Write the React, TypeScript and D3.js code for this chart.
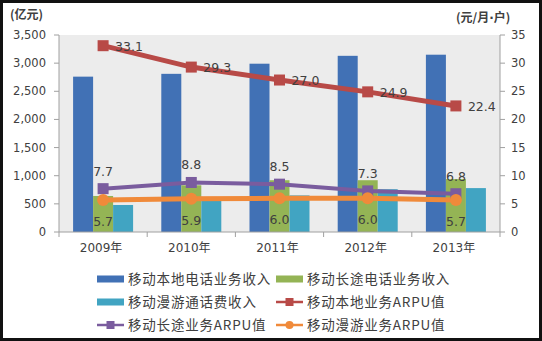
import React from "react";
import * as d3 from "d3";

const years = ["2009年", "2010年", "2011年", "2012年", "2013年"];
const localRevenue = [2760, 2810, 2990, 3130, 3150];
const longRevenue = [640, 830, 920, 920, 940];
const roamRevenue = [480, 560, 650, 760, 780];
const localArpu = [33.1, 29.3, 27.0, 24.9, 22.4];
const longArpu = [7.7, 8.8, 8.5, 7.3, 6.8];
const roamArpu = [5.7, 5.9, 6.0, 6.0, 5.7];
const leftTicks = [0, 500, 1000, 1500, 2000, 2500, 3000, 3500];
const rightTicks = [0, 5, 10, 15, 20, 25, 30, 35];

const C = {
  blue: "#4171B5",
  green: "#94B455",
  cyan: "#41A4C2",
  red: "#B84A47",
  purple: "#7A5C9E",
  orange: "#F08A3A",
};

const W = 542, H = 341;
const L = 59, R = 500, T = 35, B = 232;

export default function App() {
  const x = d3.scaleBand<string>().domain(years).range([L, R]).paddingInner(0).paddingOuter(0);
  const yL = d3.scaleLinear().domain([0, 3500]).range([B, T]);
  const yR = d3.scaleLinear().domain([0, 35]).range([B, T]);
  const bw = 20;
  const cx = (i: number) => (x(years[i]) as number) + x.bandwidth() / 2;
  const barSeries = [
    { vals: localRevenue, color: C.blue, off: -30 },
    { vals: longRevenue, color: C.green, off: -10 },
    { vals: roamRevenue, color: C.cyan, off: 10 },
  ];
  const line = (vals: number[]) =>
    d3.line<number>().x((_, i) => cx(i)).y((v) => yR(v))(vals) as string;
  const numFont = "'DejaVu Sans', Verdana, sans-serif";
  const cjk = "'Noto Sans CJK SC', sans-serif";
  const fmt = d3.format(",");

  const legend = [
    { label: "移动本地电话业务收入", type: "bar", color: C.blue },
    { label: "移动长途电话业务收入", type: "bar", color: C.green },
    { label: "移动漫游通话费收入", type: "bar", color: C.cyan },
    { label: "移动本地业务ARPU值", type: "sq", color: C.red },
    { label: "移动长途业务ARPU值", type: "sq", color: C.purple },
    { label: "移动漫游业务ARPU值", type: "ci", color: C.orange },
  ];

  return (
    <svg width={W} height={H} style={{ position: "absolute", left: 0, top: 0 }}>
      <rect x={0} y={0} width={W} height={H} fill="#fff" />
      <rect x={1.5} y={1.5} width={W - 3} height={H - 3} fill="none" stroke="#111" strokeWidth={3} />
      <rect x={L} y={T} width={R - L} height={B - T} fill="#ECECEC" />
      {barSeries.map((s, si) =>
        s.vals.map((v, i) => (
          <rect key={`b${si}-${i}`} x={cx(i) + s.off} y={yL(v)} width={bw} height={B - yL(v)} fill={s.color} />
        ))
      )}
      <line x1={L} y1={T} x2={L} y2={B} stroke="#A0A0A0" />
      <line x1={R} y1={T} x2={R} y2={B} stroke="#A0A0A0" />
      <line x1={L} y1={B} x2={R} y2={B} stroke="#A0A0A0" />
      {leftTicks.map((t) => (
        <g key={`lt${t}`}>
          <line x1={L - 5} x2={L} y1={yL(t)} y2={yL(t)} stroke="#A0A0A0" />
          <text x={46} y={yL(t) + 4} textAnchor="end" fontSize={11.5} fontFamily={numFont} fill="#404040">{fmt(t)}</text>
        </g>
      ))}
      {rightTicks.map((t) => (
        <g key={`rt${t}`}>
          <line x1={R} x2={R + 5} y1={yR(t)} y2={yR(t)} stroke="#A0A0A0" />
          <text x={511} y={yR(t) + 4} textAnchor="start" fontSize={11.5} fontFamily={numFont} fill="#404040">{t}</text>
        </g>
      ))}
      {years.map((y, i) => (
        <g key={`xt${i}`}>
          <line x1={x(y) as number} x2={x(y) as number} y1={B} y2={B + 5} stroke="#A0A0A0" />
          <text x={cx(i) - 2} y={B + 20} textAnchor="middle" fontSize={12} fill="#404040">
            <tspan fontFamily={numFont}>{y.slice(0, 4)}</tspan>
            <tspan fontFamily={cjk}>年</tspan>
          </text>
        </g>
      ))}
      <line x1={R} x2={R} y1={B} y2={B + 5} stroke="#A0A0A0" />
      <path d={line(localArpu)} fill="none" stroke={C.red} strokeWidth={5} />
      <path d={line(longArpu)} fill="none" stroke={C.purple} strokeWidth={4} />
      <path d={line(roamArpu)} fill="none" stroke={C.orange} strokeWidth={5} />
      {localArpu.map((v, i) => (
        <rect key={`rm${i}`} x={cx(i) - 5.5} y={yR(v) - 5.5} width={11} height={11} fill={C.red} />
      ))}
      {longArpu.map((v, i) => (
        <rect key={`pm${i}`} x={cx(i) - 5.5} y={yR(v) - 5.5} width={11} height={11} fill={C.purple} />
      ))}
      {roamArpu.map((v, i) => (
        <circle key={`om${i}`} cx={cx(i)} cy={yR(v)} r={6} fill={C.orange} />
      ))}
      {localArpu.map((v, i) => (
        <text key={`rl${i}`} x={cx(i) + 12} y={yR(v) + 5} fontSize={12.5} fontFamily={numFont} fill="#404040">{v.toFixed(1)}</text>
      ))}
      {longArpu.map((v, i) => (
        <text key={`pl${i}`} x={cx(i)} y={yR(v) - 13} textAnchor="middle" fontSize={12.5} fontFamily={numFont} fill="#404040">{v.toFixed(1)}</text>
      ))}
      {roamArpu.map((v, i) => (
        <text key={`ol${i}`} x={cx(i)} y={yR(v) + 26} textAnchor="middle" fontSize={12.5} fontFamily={numFont} fill="#404040">{v.toFixed(1)}</text>
      ))}
      <text x={10} y={19} fontSize={12} fontWeight="bold" fontFamily={cjk} fill="#404040">(亿元)</text>
      <text x={456} y={22} fontSize={12} fontWeight="bold" fontFamily={cjk} fill="#404040">
        (元/月<tspan fontFamily={numFont}>·</tspan>户)
      </text>
      {legend.map((d, i) => {
        const col = i % 2, row = Math.floor(i / 2);
        const sx = col === 0 ? 97 : 276;
        const ty = 279 + row * 23;
        return (
          <g key={`lg${i}`}>
            {d.type === "bar" ? (
              <rect x={sx} y={ty - 3.5} width={27} height={7} fill={d.color} />
            ) : (
              <g>
                <line x1={sx} x2={sx + 27} y1={ty} y2={ty} stroke={d.color} strokeWidth={2.5} />
                {d.type === "sq" ? (
                  <rect x={sx + 9.5} y={ty - 4} width={8} height={8} fill={d.color} />
                ) : (
                  <circle cx={sx + 13.5} cy={ty} r={4} fill={d.color} />
                )}
              </g>
            )}
            <text x={sx + 31} y={ty + 5} fontSize={13.5} letterSpacing={0.8} fontFamily={cjk} fill="#404040">{d.label}</text>
          </g>
        );
      })}
    </svg>
  );
}
